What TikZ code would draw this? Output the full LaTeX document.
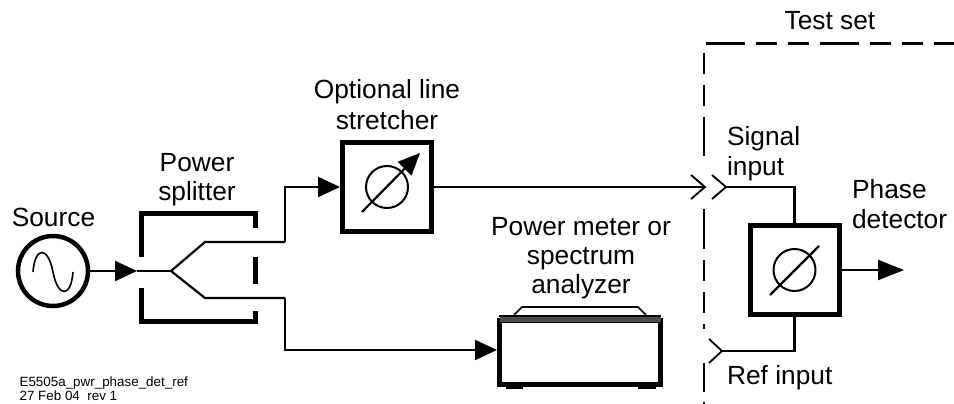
\documentclass[tikz,border=0pt]{standalone}
\usepackage{fontspec}
\setmainfont{Liberation Sans}
\usetikzlibrary{arrows.meta,positioning,calc}

\begin{document}
\begin{tikzpicture}[x=1pt,y=-1pt,>={Triangle[length=22pt,width=20pt]},line width=2.2pt,
  lbl/.style={font=\fontsize{26.3}{29}\selectfont,inner sep=0pt,anchor=base},
  lblL/.style={lbl,anchor=base west},
  phbox/.style={draw,line width=5pt,minimum size=89pt,inner sep=0pt},
  phcirc/.style={draw,circle,line width=2pt,minimum size=42pt,inner sep=0pt},
  wall/.style={line width=5pt},
  chev/.style={line width=1.8pt}]
\useasboundingbox (0,0) rectangle (954,404);
% source and splitter
\node[draw,circle,line width=4.5pt,minimum size=70pt,inner sep=0pt] (src) at (53,271) {};
\draw[line width=1.6pt] (33,272) .. controls (35,246) and (48,246) .. (53,272) .. controls (58,298) and (71,298) .. (73,272);
\coordinate (fork) at (171,271);
\coordinate (up) at (205,242);
\coordinate (dn) at (205,298);
\coordinate (upc) at (285,242);
\coordinate (dnc) at (285,298);
\draw[wall] (141.5,257)--(141.5,213)--(255,213)--(255,228);
\draw[wall] (141.5,288)--(141.5,321)--(255,321)--(255,311);
\draw[wall] (255,257)--(255,284);
\draw[->] (src)--(137,271);
\draw (137,271)--(fork);
\draw (fork)--(up)--(upc);
\draw (fork)--(dn)--(dnc);
% stretcher
\node[phbox] (str) at (387,187) {};
\node[phcirc] (strc) at (387,187) {};
\draw[->,>={Triangle[length=22pt,width=19pt]}] (362,212)--(420,153);
\draw[->] (upc)--(285,187)--(str.west);
% power meter
\node[draw,line width=5pt,minimum width=161pt,minimum height=64pt,inner sep=0pt] (mtr) at (580,352) {};
\fill[black!70] (499.5,317) rectangle (660.5,322);
\draw[line width=1.6pt] (499,316)--(661,316);
\draw[line width=1.6pt] (514,315)--(522,307)--(638,307)--(646,315);
\fill (506,386) rectangle (523,389);
\fill (638,386) rectangle (656,389);
\draw[->] (dnc)--(285,350)--(mtr.west|-0,350);
% test set
\draw[dash pattern=on 39pt off 11pt on 21pt off 11pt on 21pt off 11pt] (706,43.5)--(954,43.5);
\draw[dash pattern=on 21pt off 11pt on 21pt off 11pt on 39pt off 11pt] (704,53)--(704,156);
\draw[dash pattern=on 40pt off 11pt on 21pt off 11pt on 21pt off 11pt on 5pt off 40pt] (704,209)--(704,329);
\draw[dash pattern=on 29pt off 10pt] (704,363)--(704,404);
\node[phbox] (det) at (794.5,270) {};
\node[phcirc] (detc) at (794.5,270) {};
\draw (770,295)--(819,246);
\coordinate (sig) at (726,187);
\coordinate (ref) at (722,351);
\coordinate (out) at (904,270);
\draw (str.east)--(704,187);
\draw[chev] (691,175)--(705,187)--(691,199);
\draw[chev] (712,175)--(726,187)--(712,199);
\draw (sig)--(794.5,187)--(det.north);
\draw (det.south)--(794.5,351)--(ref);
\draw[chev] (709,339)--(ref)--(709,363);
\draw[->,>={Triangle[length=26pt,width=20pt]}] (det.east)--(out);
% labels
\node[lbl] (srclbl) at (53.5,226) {Source};
\node[lbl] (splt1) at (197,171) {Power};
\node[lbl] (splt2) at (197,200) {splitter};
\node[lbl] (strl1) at (387,99) {Optional line};
\node[lbl] (strl2) at (387,129) {stretcher};
\node[lbl] (mtr1) at (581,235) {Power meter or};
\node[lbl] (mtr2) at (581,264) {spectrum};
\node[lbl] (mtr3) at (581,293) {analyzer};
\node[lbl] (tsl) at (830,30) {Test set};
\node[lblL] (sgl1) at (726,146) {Signal};
\node[lblL] (sgl2) at (726,175) {input};
\node[lblL] (phl1) at (851,198) {Phase};
\node[lblL] (phl2) at (851,228) {detector};
\node[lblL] (rfl) at (726,384) {Ref input};
\node[font=\fontsize{13.4}{14}\selectfont,align=left,inner sep=0pt,anchor=north west] (fig) at (18.5,376) {E5505a\_pwr\_phase\_det\_ref\\27 Feb 04~~rev 1};
\end{tikzpicture}
\end{document}
